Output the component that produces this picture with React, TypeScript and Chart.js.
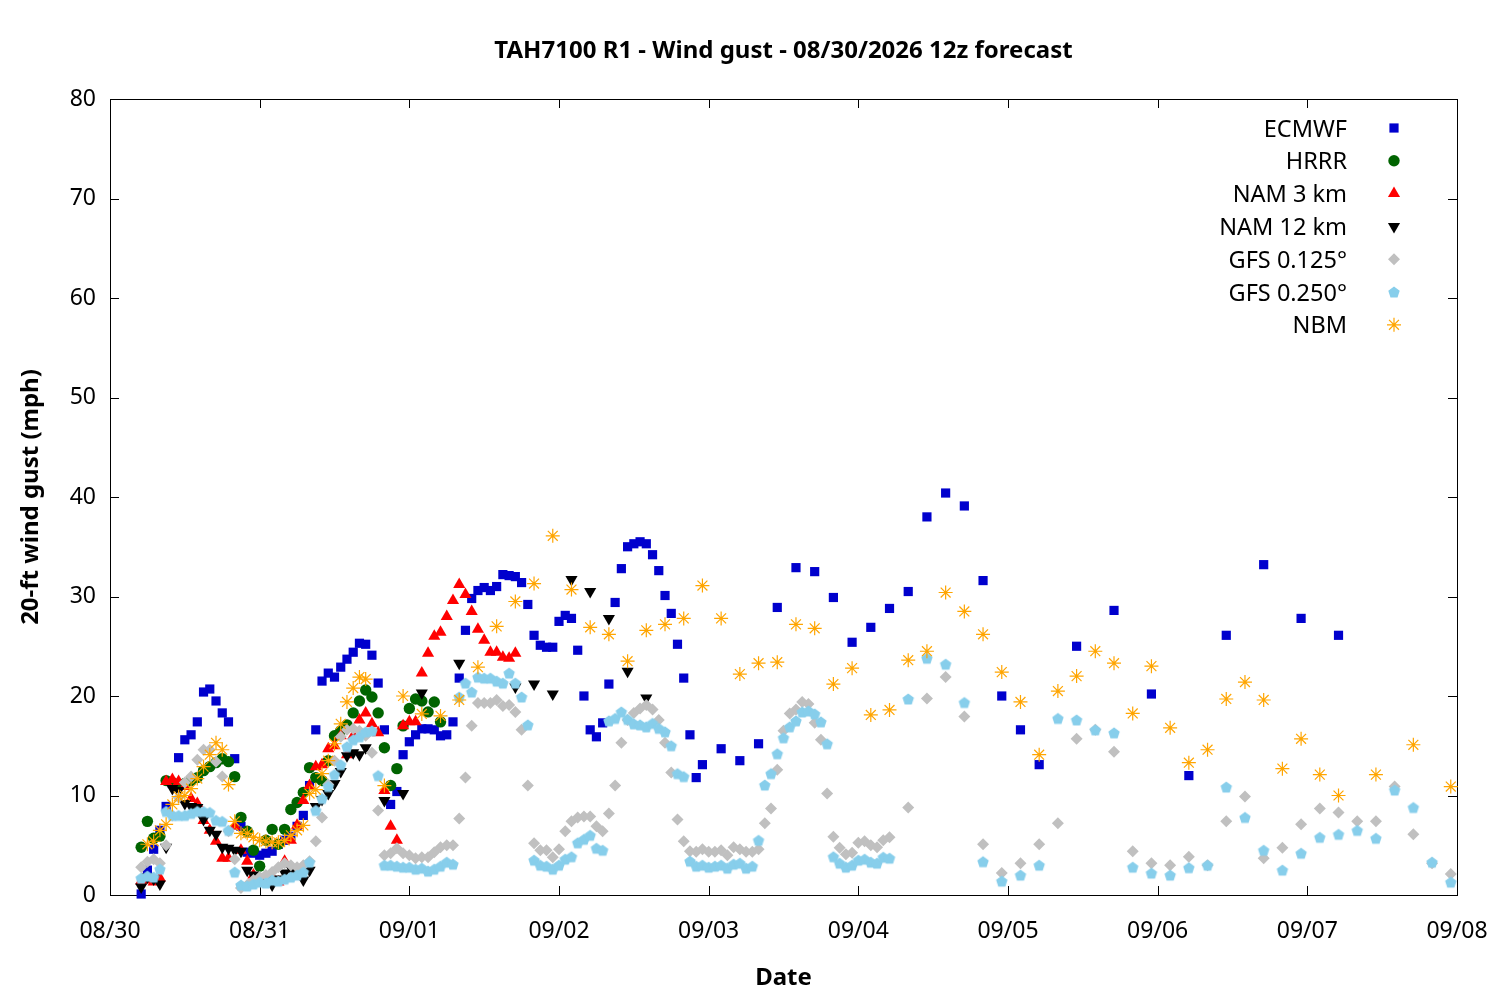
import { useEffect, useRef } from "react"
import { Chart, registerables } from "chart.js"
import type { Plugin, PointStyle } from "chart.js"
import { drawPoint } from "chart.js/helpers"

Chart.register(...registerables)

// x values are hours after 08/30 00:00, y values are gusts in mph
const dateLabels = ["08/30", "08/31", "09/01", "09/02", "09/03", "09/04", "09/05", "09/06", "09/07", "09/08"]

// ECMWF: hourly from h5 to h95, then 3-hourly to h149, then 6-hourly
const ecmwfHourly = [
  0.1, 2.5, 4.6, 6.5, 8.9, 11.2, 13.8, 15.6, 16.1, 17.4, 20.4, 20.7, 19.5, 18.3, 17.4, 13.7, 6.9, 4.3, 4.2, 4.0,
  4.2, 4.4, 5.1, 5.5, 5.9, 6.9, 8.0, 11.0,
  16.6, 21.5, 22.3, 21.9, 22.9, 23.7, 24.4, 25.3, 25.2, 24.1, 21.3, 16.6, 9.1, 10.4, 14.1, 15.4, 16.1, 16.7, 16.7,
  16.6, 16.0, 16.1, 17.4, 21.8, 26.6, 29.8, 30.6, 30.9, 30.6, 31.0, 32.2, 32.1, 32.0, 31.4, 29.2, 26.1, 25.1, 24.9,
  24.9, 27.5, 28.1, 27.8, 24.6, 20.0, 16.6, 15.9, 17.3, 21.2, 29.4, 32.8, 35.0, 35.3, 35.5, 35.3, 34.2, 32.6, 30.1,
  28.3, 25.2, 21.8, 16.1, 11.8, 13.1,
]
const ecmwf3h = [14.7, 13.5, 15.2, 28.9, 32.9, 32.5, 29.9, 25.4, 26.9, 28.8, 30.5, 38.0, 40.4, 39.1, 31.6, 20.0, 16.6, 13.1]
const ecmwf6h = [25.0, 28.6, 20.2, 12.0, 26.1, 33.2, 27.8, 26.1]

// HRRR: hourly h5..h53
const hrrrHourly = [
  4.8, 7.4, 5.7, 5.9, 11.5, 11.3, 11.1, 11.2, 11.5, 11.8, 12.5, 12.9, 13.3, 13.7, 13.4, 11.9, 7.8, 6.4, 4.5, 2.9,
  5.5, 6.6, 5.1, 6.6, 8.6, 9.3, 10.3, 12.8, 11.8, 11.5, 13.5, 16.0, 16.5, 17.1, 18.3, 19.5, 20.6, 19.9, 18.3, 14.8,
  11.0, 12.7, 17.0, 18.75, 19.7, 19.5, 18.4, 19.4, 17.4,
]

// NAM 3 km: hourly h5..h65
const nam3Hourly = [
  1.4, 1.5, 1.3, 1.7, 11.4, 11.6, 11.4, 10.9, 9.7, 9.2, 7.5, 6.5, 5.4, 3.7, 3.7, 6.9, 4.5, 3.4, 2.0, 1.6,
  1.3, 1.8, 1.3, 3.4, 5.5, 7.0, 9.5, 11.0, 12.9, 13.1, 14.7, 15.0, 16.0, 14.1, 16.0, 17.6, 18.3, 17.2, 16.3, 10.5,
  6.9, 5.5, 17.0, 17.4, 17.4, 22.3, 24.3, 26.0, 26.4, 28.0, 29.6, 31.2, 30.2, 28.5, 26.7, 25.6, 24.4, 24.4, 23.9, 23.8,
  24.3,
]

// NAM 12 km: hourly h5..h41, then 3-hourly h44..h86 (null = no point)
const nam12Hourly = [
  0.8, 1.8, 1.6, 1.1, 4.8, 10.7, 10.5, 9.2, 8.9, 8.8, 7.6, 6.5, 6.1, 4.8, 4.7, 4.5, 4.4, 2.5, 2.0, 1.8,
  1.5, 1.0, 1.6, 2.2, 2.7, 2.2, 1.5, 2.5, 8.9, 9.6, 10.2, 11.2, 12.4, 14.0, 14.3, 14.1, 14.8,
]
const nam12ThreeHourly = [9.5, 10.2, 20.3, null, 23.3, null, null, 20.9, 21.2, 20.2, 31.7, 30.5, 27.8, 22.5, 19.8]

// GFS 0.125: hourly h5..h125, then 3-hourly h128..h215
const gfs125Hourly = [
  2.8, 3.35, 3.6, 3.2, 5.0, 8.0, 9.8, 11.3, 11.9, 13.6, 14.6, 14.6, 13.4, 11.9, 6.4, 3.6,
  0.7, 1.0, 1.5, 1.8, 2.0, 2.3, 2.8, 3.2, 3.0, 2.8, 3.0, 3.4,
  5.4, 7.8, 11.1, 13.5, 15.9, 16.6, 16.7, 16.5, 16.0, 14.3, 8.5,
  4.0, 4.2, 4.7, 4.2, 4.0, 3.7, 3.8, 3.8, 4.3, 4.8, 5.0, 5.0, 7.7, 11.8, 17.0, 19.3, 19.3, 19.3, 19.6, 19.0,
  19.1, 18.4, 16.6, 11.0, 5.2, 4.5,
  4.5, 3.8, 4.6, 6.4, 7.4, 7.8, 7.9, 7.9, 6.9, 6.4, 8.2, 11.0, 15.3, 17.6, 18.3, 18.75, 19.1, 18.65, 17.6, 15.3,
  12.3, 7.6, 5.4, 4.4, 4.35, 4.6, 4.35,
  4.35, 4.5, 4.0, 4.8, 4.6, 4.35, 4.35, 4.6, 7.2, 8.7, 12.6, 16.5, 18.25, 18.65, 19.4, 19.2, 17.3, 15.6, 10.2, 5.85,
  4.75, 4.1, 4.25, 5.25, 5.4, 5.0, 4.8, 5.5, 5.8,
]
const gfs125ThreeHourly = [
  8.8, 19.75, 21.9, 17.95, 5.1, 2.2, 3.2, 5.1, 7.2, 15.7, 16.6, 14.4, 4.4, 3.2, 3.0, 3.85, 3.0, 7.4, 9.9, 3.7,
  4.75, 7.1, 8.7, 8.3, 7.4, 7.4, 10.9, 6.1, 3.2, 2.1,
]

// GFS 0.250: hourly h5..h125, then 3-hourly h128..h215
const gfs250Hourly = [
  1.7, 1.9, 1.8, 2.6, 8.4, 8.0, 8.0, 8.0, 8.2, 8.4, 8.4, 8.3, 7.5, 7.4, 6.5, 2.3,
  1.0, 0.9, 1.1, 1.3, 1.2, 1.5, 1.4, 1.6, 1.8, 2.0, 2.3, 3.3,
  8.5, 9.7, 10.9, 12.1, 13.1, 14.9, 15.6, 15.9, 16.4, 16.5, 12.0,
  3.0, 3.0, 2.9, 2.8, 2.8, 2.6, 2.7, 2.4, 2.6, 2.9, 3.3, 3.1,
  19.9, 21.3, 20.4, 21.9, 21.8, 21.8, 21.5, 21.3, 22.3, 21.3, 19.9, 17.1,
  3.5, 3.0, 2.9, 2.6, 3.0, 3.6, 3.85, 5.25, 5.6, 6.0, 4.7, 4.5,
  17.5, 17.75, 18.4, 17.65, 17.2, 17.1, 16.9, 17.25, 16.75, 16.4, 15.0, 12.2, 11.9,
  3.4, 2.9, 3.0, 2.8, 2.9, 3.0, 2.7, 3.1, 3.2, 2.7, 2.9,
  5.5, 11.05, 12.2, 14.2, 15.8, 16.9, 17.5, 18.4, 18.5, 18.2, 17.4, 15.2,
  3.85, 3.2, 2.8, 3.0, 3.5, 3.6, 3.3, 3.2, 3.8, 3.7,
]
const gfs250ThreeHourly = [
  19.7, 23.8, 23.2, 19.35, 3.35, 1.4, 2.0, 3.0, 17.75, 17.6, 16.6, 16.3, 2.8, 2.2, 2.0, 2.75, 3.0, 10.85, 7.8, 4.5,
  2.5, 4.2, 5.8, 6.1, 6.5, 5.7, 10.55, 8.8, 3.3, 1.3,
]

// NBM: hourly h6..h41, 3-hourly h44..h197, 6-hourly h203..h215
const nbmHourly = [
  5.1, 5.4, 6.5, 7.1, 9.1, 9.9, 10.0, 10.7, 11.7, 12.9, 14.1, 15.3, 14.6, 11.1, 7.4, 6.2, 6.2, 5.8, 5.5, 5.4,
  5.3, 5.3, 5.5, 6.0, 6.5, 7.0, 10.2, 10.6, 12.2, 13.5, 15.2, 17.2, 19.4, 20.8, 21.9, 21.7,
]
const nbmThreeHourly = [
  11.0, 20.0, 18.2, 18.0, 19.6, 22.9, 27.0, 29.5, 31.3, 36.1, 30.7, 26.9, 26.2, 23.5, 26.6, 27.2, 27.8, 31.1, 27.8, 22.2,
  23.3, 23.4, 27.2, 26.8, 21.2, 22.8, 18.1, 18.6, 23.6, 24.5, 30.4, 28.5, 26.2, 22.4, 19.4, 14.1, 20.5, 22.0, 24.5, 23.3,
  18.25, 23.0, 16.8, 13.3, 14.6, 19.7, 21.4, 19.6, 12.7, 15.7, 12.1, 10.0,
]
const nbmSixHourly = [12.1, 15.1, 10.9]

const FONT = '"Noto Sans", "DejaVu Sans", sans-serif'

function timed(start: number, step: number, values: (number | null)[]) {
  return values.flatMap((v, i) => (v === null ? [] : [{ x: start + i * step, y: v }]))
}

function makePentagon(radius: number, color: string) {
  const size = Math.ceil(radius * 2) + 2
  const c = document.createElement("canvas")
  c.width = size
  c.height = size
  const ctx = c.getContext("2d")
  if (ctx) {
    ctx.fillStyle = color
    ctx.beginPath()
    for (let k = 0; k < 5; k++) {
      const a = -Math.PI / 2 + (k * 2 * Math.PI) / 5
      const px = size / 2 + Math.cos(a) * radius
      const py = size / 2 + 0.6 + Math.sin(a) * radius
      if (k === 0) ctx.moveTo(px, py)
      else ctx.lineTo(px, py)
    }
    ctx.closePath()
    ctx.fill()
  }
  return c
}

// plot frame with inward ticks on all four sides (drawn under the points)
const framePlugin: Plugin<"scatter"> = {
  id: "frame",
  beforeDatasetsDraw(chart) {
    const { ctx, chartArea: a, scales } = chart
    const tick = 9
    ctx.save()
    ctx.strokeStyle = "#000"
    ctx.lineWidth = 1
    ctx.beginPath()
    scales.y.ticks.forEach((t) => {
      const py = Math.round(scales.y.getPixelForValue(t.value)) + 0.5
      ctx.moveTo(a.left, py)
      ctx.lineTo(a.left + tick, py)
      ctx.moveTo(a.right, py)
      ctx.lineTo(a.right - tick, py)
    })
    scales.x.ticks.forEach((t) => {
      const px = Math.round(scales.x.getPixelForValue(t.value)) + 0.5
      ctx.moveTo(px, a.bottom)
      ctx.lineTo(px, a.bottom - tick)
      ctx.moveTo(px, a.top)
      ctx.lineTo(px, a.top + tick)
    })
    ctx.stroke()
    ctx.strokeRect(a.left + 0.5, a.top + 0.5, a.right - a.left, a.bottom - a.top)
    ctx.restore()
  },
}

// titles and the key inside the top right corner
const textPlugin: Plugin<"scatter"> = {
  id: "texts",
  afterDraw(chart) {
    const { ctx, chartArea: a } = chart
    const cx = (a.left + a.right) / 2
    ctx.save()
    ctx.fillStyle = "#000"
    ctx.font = `bold 24px ${FONT}`
    ctx.textAlign = "center"
    ctx.textBaseline = "alphabetic"
    ctx.fillText("TAH7100 R1 - Wind gust - 08/30/2026 12z forecast", cx, 58)
    ctx.fillText("Date", cx, 985)
    ctx.save()
    ctx.translate(38, (a.top + a.bottom) / 2)
    ctx.rotate(-Math.PI / 2)
    ctx.fillText("20-ft wind gust (mph)", 0, 0)
    ctx.restore()

    ctx.font = `23.5px ${FONT}`
    ctx.textAlign = "right"
    chart.data.datasets.forEach((ds, i) => {
      const rowY = 128 + i * 32.8
      ctx.fillStyle = "#000"
      ctx.fillText(String(ds.label), 1347, rowY + 8.5)
      const d = ds as any
      ctx.fillStyle = d.pointBackgroundColor
      ctx.strokeStyle = d.pointBorderColor
      ctx.lineWidth = d.pointBorderWidth
      drawPoint(
        ctx,
        {
          pointStyle: d.pointStyle as PointStyle,
          radius: d.pointRadius,
          rotation: d.pointRotation || 0,
          borderWidth: d.pointBorderWidth,
        },
        1394,
        rowY
      )
    })
    ctx.restore()
  },
}

export default function App() {
  const chartRef = useRef<HTMLCanvasElement>(null)
  const chartInstance = useRef<Chart<"scatter"> | null>(null)

  useEffect(() => {
    if (!chartRef.current) return
    if (chartInstance.current) chartInstance.current.destroy()

    const ctx = chartRef.current.getContext("2d")
    if (!ctx) return

    const pentagon = makePentagon(6, "#87ceeb")

    chartInstance.current = new Chart(ctx, {
      type: "scatter",
      data: {
        datasets: [
          {
            label: "ECMWF",
            data: [...timed(5, 1, ecmwfHourly), ...timed(98, 3, ecmwf3h), ...timed(155, 6, ecmwf6h)],
            pointStyle: "rect",
            pointRadius: 6.5,
            pointBackgroundColor: "#0000cd",
            pointBorderColor: "#0000cd",
            pointBorderWidth: 0,
            order: 6,
          },
          {
            label: "HRRR",
            data: timed(5, 1, hrrrHourly),
            pointStyle: "circle",
            pointRadius: 5.7,
            pointBackgroundColor: "#006400",
            pointBorderColor: "#006400",
            pointBorderWidth: 0,
            order: 5,
          },
          {
            label: "NAM 3 km",
            data: timed(5, 1, nam3Hourly),
            pointStyle: "triangle",
            pointRadius: 7,
            pointBackgroundColor: "#ff0000",
            pointBorderColor: "#ff0000",
            pointBorderWidth: 0,
            order: 4,
          },
          {
            label: "NAM 12 km",
            data: [...timed(5, 1, nam12Hourly), ...timed(44, 3, nam12ThreeHourly)],
            pointStyle: "triangle",
            pointRotation: 180,
            pointRadius: 7,
            pointBackgroundColor: "#000000",
            pointBorderColor: "#000000",
            pointBorderWidth: 0,
            order: 3,
          },
          {
            label: "GFS 0.125°",
            data: [...timed(5, 1, gfs125Hourly), ...timed(128, 3, gfs125ThreeHourly)],
            pointStyle: "rectRot",
            pointRadius: 6,
            pointBackgroundColor: "#c0c0c0",
            pointBorderColor: "#c0c0c0",
            pointBorderWidth: 0,
            order: 2,
          },
          {
            label: "GFS 0.250°",
            data: [...timed(5, 1, gfs250Hourly), ...timed(128, 3, gfs250ThreeHourly)],
            pointStyle: pentagon,
            pointRadius: 6,
            pointBackgroundColor: "#87ceeb",
            pointBorderColor: "#87ceeb",
            pointBorderWidth: 0,
            order: 1,
          },
          {
            label: "NBM",
            data: [...timed(6, 1, nbmHourly), ...timed(44, 3, nbmThreeHourly), ...timed(203, 6, nbmSixHourly)],
            pointStyle: "star",
            pointRadius: 7,
            pointBackgroundColor: "#ffa500",
            pointBorderColor: "#ffa500",
            pointBorderWidth: 1.2,
            order: 0,
          },
        ] as any,
      },
      options: {
        animation: false,
        responsive: false,
        devicePixelRatio: 1,
        clip: false as any,
        layout: { padding: { left: 0, right: 43, top: 99, bottom: 0 } },
        plugins: {
          legend: { display: false },
          title: { display: false },
          tooltip: { enabled: false },
        },
        elements: { point: { hoverRadius: 6 } },
        scales: {
          x: {
            type: "linear",
            min: 0,
            max: 216,
            grid: { display: false, drawTicks: false },
            border: { display: false },
            ticks: {
              stepSize: 24,
              autoSkip: false,
              maxRotation: 0,
              padding: 23,
              color: "#000",
              font: { family: FONT, size: 23 },
              callback: (v) => dateLabels[Math.round(Number(v) / 24)] ?? "",
            },
            afterFit: (scale) => {
              scale.height = 105
              scale.paddingLeft = 0
              scale.paddingRight = 0
            },
          },
          y: {
            type: "linear",
            min: 0,
            max: 80,
            grid: { display: false, drawTicks: false },
            border: { display: false },
            ticks: {
              stepSize: 10,
              padding: 14,
              color: "#000",
              font: { family: FONT, size: 23 },
            },
            afterFit: (scale) => {
              scale.width = 110
            },
          },
        },
      },
      plugins: [framePlugin, textPlugin],
    })

    return () => {
      if (chartInstance.current) {
        chartInstance.current.destroy()
        chartInstance.current = null
      }
    }
  }, [])

  return (
    <div style={{ position: "fixed", left: 0, top: 0, width: 1500, height: 1000, background: "#fff" }}>
      <canvas ref={chartRef} width={1500} height={1000} style={{ display: "block", width: 1500, height: 1000 }} />
    </div>
  )
}
